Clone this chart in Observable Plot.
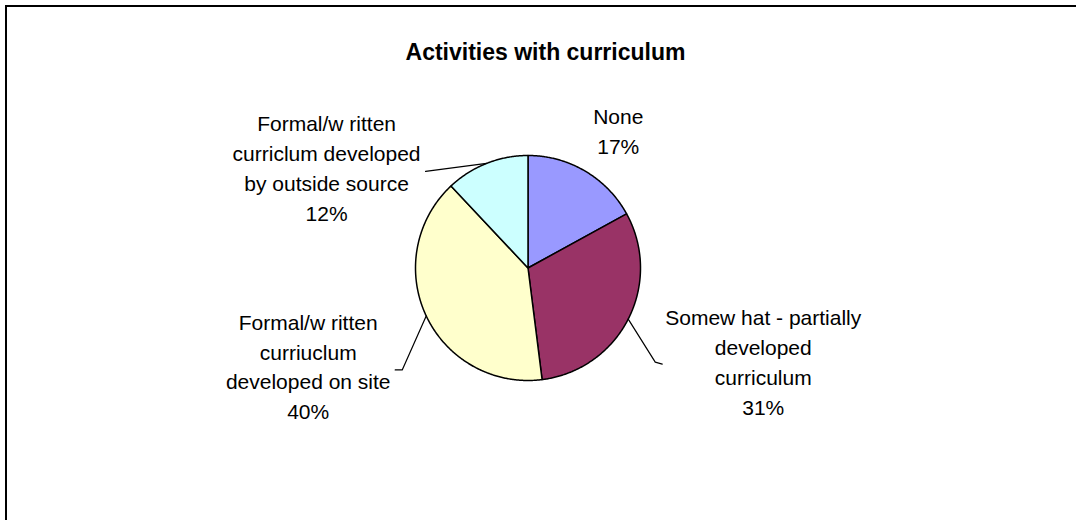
<!DOCTYPE html>
<html>
<head>
<meta charset="utf-8">
<script src="https://cdn.jsdelivr.net/npm/d3@7"></script>
<script src="https://cdn.jsdelivr.net/npm/@observablehq/plot@0.6"></script>
<style>
  html, body { margin: 0; padding: 0; background: #fff; overflow: hidden; }
  #wrap { position: relative; width: 1076px; height: 520px; overflow: hidden;
          font-family: "Liberation Sans", Arial, sans-serif; }
  #frame { position: absolute; left: 5px; top: 5px; width: 1300px; height: 800px;
           border: 2px solid #000; box-sizing: border-box; pointer-events: none; }
  #title { position: absolute; left: 0; top: 41px; width: 1091px; text-align: center;
           font-weight: bold; font-size: 23px; line-height: 23px; color: #000; }
  #chart { position: absolute; left: 0; top: 0; }
</style>
</head>
<body>
<div id="wrap">
  <div id="chart"></div>
  <div id="title">Activities with curriculum</div>
  <div id="frame"></div>
</div>
<script>
// ---- data ----
const categories = ["None", "Somewhat - partially developed curriculum", "Formal/written curriculum developed on site", "Formal/written curriculum developed by outside source"];
const labelTexts = ["None", "Somew hat - partially\ndeveloped\ncurriculum", "Formal/w ritten\ncurriuclum\ndeveloped on site", "Formal/w ritten\ncurriclum developed\nby outside source"];
const percents = [17, 31, 40, 12];
const colors = ["#9999FF", "#993366", "#FFFFCC", "#CCFFFF"];

// ---- layout / style (pixels) ----
const W = 1076, H = 520;
const cx = 527.5, cy = 267.5, R = 112.5;
// label offsets from the slice's mid-angle point on the rim
const labelOffset = [[33, -42], [135, 41], [-118, 49], [-160, 3]];
// leader line bends/ends relative to the mid-angle rim point (null = no leader)
const leaderOffset = [null, [[27, 43], [34, 45]], [[-24, 54], [-31, 54]], [[-61, 8]]];

const arcs = d3.pie().sort(null).value(d => d)(percents);
const rim = a => ({x: cx + R * Math.sin(a), y: cy - R * Math.cos(a)});

const wedges = [];
arcs.forEach((a, i) => {
  const n = Math.max(2, Math.ceil((a.endAngle - a.startAngle) / (Math.PI / 360)));
  wedges.push({k: categories[i], x: cx, y: cy});
  for (let j = 0; j <= n; j++) {
    const p = rim(a.startAngle + (a.endAngle - a.startAngle) * j / n);
    wedges.push({k: categories[i], x: p.x, y: p.y});
  }
  wedges.push({k: categories[i], x: cx, y: cy});
});

const labels = arcs.map((a, i) => {
  const p = rim((a.startAngle + a.endAngle) / 2);
  return {x: p.x + labelOffset[i][0], y: p.y + labelOffset[i][1],
          text: labelTexts[i] + "\n" + percents[i] + "%"};
});

const leaders = [];
arcs.forEach((a, i) => {
  if (!leaderOffset[i]) return;
  const p = rim((a.startAngle + a.endAngle) / 2);
  leaders.push({k: i, x: p.x, y: p.y});
  leaderOffset[i].forEach(o => leaders.push({k: i, x: p.x + o[0], y: p.y + o[1]}));
});

const plot = Plot.plot({
  width: W, height: H,
  margin: 0,
  x: {domain: [0, W], range: [0, W], axis: null},
  y: {domain: [0, H], range: [0, H], axis: null},
  color: {domain: categories, range: colors},
  style: {fontFamily: "'Liberation Sans', Arial, sans-serif", background: "transparent"},
  marks: [
    Plot.line(wedges, {x: "x", y: "y", z: "k", fill: "k", stroke: "#000", strokeWidth: 1.5, strokeLinejoin: "round", curve: "linear"}),
    Plot.line(leaders, {x: "x", y: "y", z: "k", stroke: "#000", strokeWidth: 1.2}),
    Plot.text(labels, {x: "x", y: "y", text: "text", fontSize: 21, lineHeight: 30 / 21, textAnchor: "middle", lineAnchor: "middle", fill: "#000"})
  ]
});
document.getElementById("chart").appendChild(plot);
</script>
</body>
</html>
